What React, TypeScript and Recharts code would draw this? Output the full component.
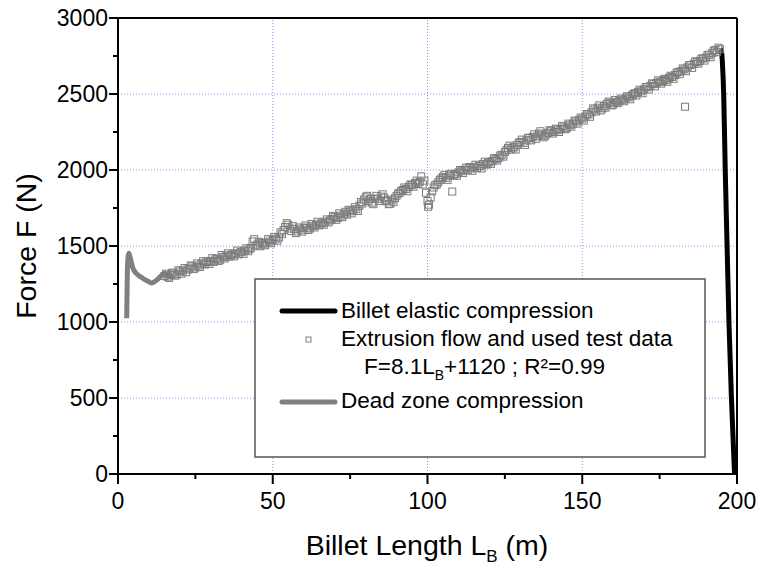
import { ComposedChart, Line, Scatter, XAxis, YAxis, ReferenceLine } from "recharts";

const FONT = '"Liberation Sans", Arial, Helvetica, sans-serif';

const xTicks = [0, 25, 50, 75, 100, 125, 150, 175, 200];
const yTicks = [0, 250, 500, 750, 1000, 1250, 1500, 1750, 2000, 2250, 2500, 2750, 3000];
const xMajor = [0, 50, 100, 150, 200];
const yMajor = [0, 500, 1000, 1500, 2000, 2500, 3000];
const xGrid = [50, 100, 150];
const yGrid = [500, 1000, 1500, 2000, 2500];

// Billet length (m), force (N)
const deadZone: [number, number][] = [
  [2.8, 1025], [2.9, 1150], [3.0, 1300], [3.2, 1420], [3.5, 1452], [3.8, 1435],
  [4.3, 1390], [5.0, 1345], [6.0, 1318], [7.1, 1300], [8.0, 1288], [9.0, 1275],
  [10.0, 1264], [10.9, 1256], [12.0, 1268], [13.0, 1284], [13.6, 1298], [14.5, 1312],
  [15.2, 1320], [16.0, 1306], [16.8, 1298], [17.4, 1300],
];

const elastic: [number, number][] = [
  [194.6, 2795], [195.0, 2780], [195.3, 2700], [195.7, 2500], [196.2, 2000],
  [196.8, 1500], [197.4, 1000], [198.2, 500], [199.2, 0],
];

const extrusion: [number, number][] = [
  [15, 1302], [16, 1298], [17, 1310], [18, 1318], [19, 1312], [20, 1332], [21, 1340], [22, 1328],
  [23, 1352], [24, 1366], [25, 1358], [26, 1372], [27, 1385], [28, 1378], [29, 1395], [30, 1402],
  [31, 1396], [32, 1418], [33, 1410], [34, 1428], [35, 1437], [36, 1430], [37, 1446], [38, 1452],
  [39, 1445], [40, 1462], [41, 1470], [42, 1466], [43, 1488], [44, 1545], [45, 1510], [46, 1498],
  [47, 1515], [48, 1522], [49, 1530], [50, 1540], [51, 1548], [52, 1556], [53, 1578], [54, 1625],
  [55, 1640], [56, 1598], [57, 1612], [58, 1596], [59, 1608], [60, 1618], [61, 1622], [62, 1615],
  [63, 1632], [64, 1640], [65, 1636], [66, 1652], [67, 1660], [68, 1655], [69, 1678], [70, 1690],
  [71, 1684], [72, 1700], [73, 1712], [74, 1706], [75, 1728], [76, 1735], [77, 1742], [78, 1765],
  [79, 1780], [80, 1820], [81, 1795], [82, 1785], [83, 1812], [84, 1808], [85, 1825], [86, 1818],
  [87, 1795], [88, 1778], [89, 1790], [90, 1830], [91, 1850], [92, 1868], [93, 1875], [94, 1890],
  [95, 1902], [96, 1915], [97, 1908], [98, 1958], [99, 1930], [100, 1796], [100.5, 1772], [101, 1820],
  [102, 1885], [103, 1905], [104, 1935], [105, 1955], [106, 1948], [107, 1962], [108, 1858], [108.5, 1968],
  [109, 1975], [110, 1985], [111, 1992], [112, 2002], [113, 1998], [114, 2010], [115, 2018], [116, 2012],
  [117, 2025], [118, 2040], [119, 2035], [120, 2052], [121, 2060], [122, 2072], [123, 2080], [124, 2100],
  [125, 2118], [126, 2145], [127, 2135], [128, 2150], [129, 2165], [130, 2185], [131, 2178], [132, 2195],
  [133, 2210], [134, 2218], [135, 2205], [136, 2240], [137, 2232], [138, 2225], [139, 2245], [140, 2258],
  [141, 2250], [142, 2262], [143, 2270], [144, 2280], [145, 2275], [146, 2295], [147, 2305], [148, 2318],
  [149, 2330], [150, 2338], [151, 2352], [152, 2365], [153, 2380], [154, 2398], [155, 2410], [156, 2392],
  [157, 2420], [158, 2435], [159, 2442], [160, 2430], [161, 2448], [162, 2455], [163, 2462], [164, 2470],
  [165, 2478], [166, 2490], [167, 2505], [168, 2512], [169, 2518], [170, 2530], [171, 2545], [172, 2552],
  [173, 2565], [174, 2572], [175, 2580], [176, 2585], [177, 2592], [178, 2605], [179, 2612], [180, 2625],
  [181, 2645], [182, 2650], [183, 2662], [183.2, 2416], [184, 2675], [185, 2690], [186, 2698], [187, 2710],
  [188, 2718], [189, 2735], [190, 2740], [191, 2755], [192, 2770], [193, 2790], [194, 2805], [194.5, 2795],
];

// second pass of test readings, offset half a metre
const extrusionRepeat: [number, number][] = [
  [15.5, 1318], [16.5, 1290], [17.5, 1325], [18.5, 1305], [19.5, 1340], [20.5, 1318], [21.5, 1355], [22.5, 1345],
  [23.5, 1372], [24.5, 1348], [25.5, 1385], [26.5, 1362], [27.5, 1400], [28.5, 1392], [29.5, 1382], [30.5, 1420],
  [31.5, 1412], [32.5, 1402], [33.5, 1440], [34.5, 1418], [35.5, 1452], [36.5, 1440], [37.5, 1432], [38.5, 1470],
  [39.5, 1458], [40.5, 1448], [41.5, 1485], [42.5, 1478], [43.5, 1530], [44.5, 1502], [45.5, 1528], [46.5, 1520],
  [47.5, 1505], [48.5, 1545], [49.5, 1518], [50.5, 1560], [51.5, 1535], [52.5, 1590], [53.5, 1605], [54.5, 1650],
  [55.5, 1615], [56.5, 1630], [57.5, 1585], [58.5, 1622], [59.5, 1595], [60.5, 1635], [61.5, 1605], [62.5, 1645],
  [63.5, 1622], [64.5, 1660], [65.5, 1648], [66.5, 1640], [67.5, 1675], [68.5, 1668], [69.5, 1698], [70.5, 1672],
  [71.5, 1715], [72.5, 1690], [73.5, 1725], [74.5, 1738], [75.5, 1715], [76.5, 1755], [77.5, 1730], [78.5, 1790],
  [79.5, 1805], [80.5, 1830], [81.5, 1810], [82.5, 1775], [83.5, 1830], [84.5, 1795], [85.5, 1840], [86.5, 1800],
  [87.5, 1775], [88.5, 1805], [89.5, 1815], [90.5, 1845], [91.5, 1862], [92.5, 1885], [93.5, 1860], [94.5, 1905],
  [95.5, 1890], [96.5, 1930], [97.5, 1922], [98.5, 1905], [99.5, 1850], [100.2, 1758], [101.5, 1860], [102.5, 1900],
  [103.5, 1920], [104.5, 1945], [105.5, 1968], [106.5, 1935], [107.5, 1975], [109.5, 1962], [110.5, 2000], [111.5, 1980],
  [112.5, 2015], [113.5, 2020], [114.5, 1995], [115.5, 2035], [116.5, 2028], [117.5, 2010], [118.5, 2055], [119.5, 2048],
  [120.5, 2040], [121.5, 2078], [122.5, 2062], [123.5, 2095], [124.5, 2088], [125.5, 2130], [126.5, 2160], [127.5, 2148],
  [128.5, 2135], [129.5, 2180], [130.5, 2200], [131.5, 2165], [132.5, 2212], [133.5, 2195], [134.5, 2235], [135.5, 2222],
  [136.5, 2255], [137.5, 2215], [138.5, 2240], [139.5, 2262], [140.5, 2240], [141.5, 2272], [142.5, 2250], [143.5, 2290],
  [144.5, 2268], [145.5, 2305], [146.5, 2285], [147.5, 2325], [148.5, 2305], [149.5, 2345], [150.5, 2325], [151.5, 2368],
  [152.5, 2350], [153.5, 2405], [154.5, 2385], [155.5, 2425], [156.5, 2405], [157.5, 2410], [158.5, 2450], [159.5, 2425],
  [160.5, 2460], [161.5, 2440], [162.5, 2470], [163.5, 2452], [164.5, 2485], [165.5, 2465], [166.5, 2500], [167.5, 2490],
  [168.5, 2528], [169.5, 2505], [170.5, 2545], [171.5, 2530], [172.5, 2570], [173.5, 2550], [174.5, 2590], [175.5, 2568],
  [176.5, 2600], [177.5, 2580], [178.5, 2620], [179.5, 2600], [180.5, 2640], [181.5, 2630], [182.5, 2668], [183.5, 2650],
  [184.5, 2690], [185.5, 2672], [186.5, 2715], [187.5, 2700], [188.5, 2732], [189.5, 2720], [190.5, 2758], [191.5, 2742],
  [192.5, 2785], [193.5, 2775],
];

const toXY = (pts: [number, number][]) => pts.map(([x, y]) => ({ x, y }));

function XTick(props: any) {
  const { x, y, payload } = props;
  const major = xMajor.includes(payload.value);
  return (
    <g>
      <line x1={x} x2={x} y1={y} y2={y + (major ? 10 : 5)} stroke="#000" strokeWidth={2} />
      {major && (
        <text x={x} y={y + 35} textAnchor="middle" fontSize={23} fontFamily={FONT} fill="#000">
          {payload.value}
        </text>
      )}
    </g>
  );
}

function YTick(props: any) {
  const { x, y, payload } = props;
  const major = yMajor.includes(payload.value);
  return (
    <g>
      <line x1={x - (major ? 9 : 5)} x2={x} y1={y} y2={y} stroke="#000" strokeWidth={2} />
      {major && (
        <text x={x - 10} y={y + 8} textAnchor="end" fontSize={23} fontFamily={FONT} fill="#000">
          {payload.value}
        </text>
      )}
    </g>
  );
}

function Square(props: any) {
  const { cx, cy } = props;
  return <rect x={cx - 3.5} y={cy - 3.5} width={7} height={7} fill="none" stroke="#7c7c7c" strokeWidth={1} />;
}

export default function App() {
  return (
    <div style={{ position: "absolute", left: 0, top: 0, width: 758, height: 569, background: "#fff" }}>
      <ComposedChart width={758} height={569} margin={{ top: 18, right: 21, bottom: 0, left: 0 }}>
        <XAxis
          type="number"
          dataKey="x"
          domain={[0, 200]}
          ticks={xTicks}
          interval={0}
          height={95}
          tickSize={0}
          tickMargin={0}
          tickLine={false}
          tick={<XTick />}
          axisLine={{ stroke: "#000", strokeWidth: 2 }}
        />
        <YAxis
          type="number"
          domain={[0, 3000]}
          ticks={yTicks}
          interval={0}
          width={118}
          tickSize={0}
          tickMargin={0}
          tickLine={false}
          tick={<YTick />}
          axisLine={{ stroke: "#000", strokeWidth: 2 }}
        />
        {xGrid.map((v) => (
          <ReferenceLine key={`gx${v}`} x={v} stroke="#8c8cff" strokeDasharray="1 2" strokeWidth={1} />
        ))}
        {yGrid.map((v) => (
          <ReferenceLine key={`gy${v}`} y={v} stroke="#8c8cff" strokeDasharray="1 2" strokeWidth={1} />
        ))}
        <ReferenceLine y={3000} stroke="#000" strokeWidth={2} />
        <ReferenceLine x={200} stroke="#000" strokeWidth={2} />
        <Scatter
          name="Extrusion flow and used test data"
          data={toXY(extrusion)}
          dataKey="y"
          shape={<Square />}
          isAnimationActive={false}
        />
        <Scatter
          name="Extrusion flow and used test data (repeat)"
          data={toXY(extrusionRepeat)}
          dataKey="y"
          shape={<Square />}
          isAnimationActive={false}
        />
        <Line
          name="Dead zone compression"
          data={toXY(deadZone)}
          dataKey="y"
          type="monotone"
          stroke="#808080"
          strokeWidth={5}
          dot={false}
          isAnimationActive={false}
        />
        <Line
          name="Billet elastic compression"
          data={toXY(elastic)}
          dataKey="y"
          type="monotone"
          stroke="#000"
          strokeWidth={5}
          dot={false}
          isAnimationActive={false}
        />
      </ComposedChart>
      <svg
        width={758}
        height={569}
        style={{ position: "absolute", left: 0, top: 0, pointerEvents: "none" }}
        fontFamily={FONT}
      >
        <text x={427} y={555} textAnchor="middle" fontSize={28.5} fill="#000">
          Billet Length L<tspan fontSize={17} dy={7}>B</tspan>
          <tspan dy={-7}> (m)</tspan>
        </text>
        <text transform="translate(36,246) rotate(-90)" textAnchor="middle" fontSize={28.5} fill="#000">
          Force F (N)
        </text>
        <rect x={255} y={279} width={450} height={178} fill="#fff" stroke="#555" strokeWidth={1.5} />
        <line x1={282} x2={335} y1={311} y2={311} stroke="#000" strokeWidth={5} strokeLinecap="round" />
        <text x={341} y={318} fontSize={22.5} fill="#000">Billet elastic compression</text>
        <rect x={306} y={337} width={5} height={5} fill="none" stroke="#808080" strokeWidth={1} />
        <text x={341} y={346} fontSize={22.5} fill="#000">Extrusion flow and used test data</text>
        <text x={364} y={374} fontSize={22.5} fill="#000">
          F=8.1L<tspan fontSize={14} dy={6}>B</tspan>
          <tspan dy={-6}>+1120 ; R²=0.99</tspan>
        </text>
        <line x1={282} x2={335} y1={402} y2={402} stroke="#808080" strokeWidth={5} strokeLinecap="round" />
        <text x={341} y={408} fontSize={22.5} fill="#000">Dead zone compression</text>
      </svg>
    </div>
  );
}
